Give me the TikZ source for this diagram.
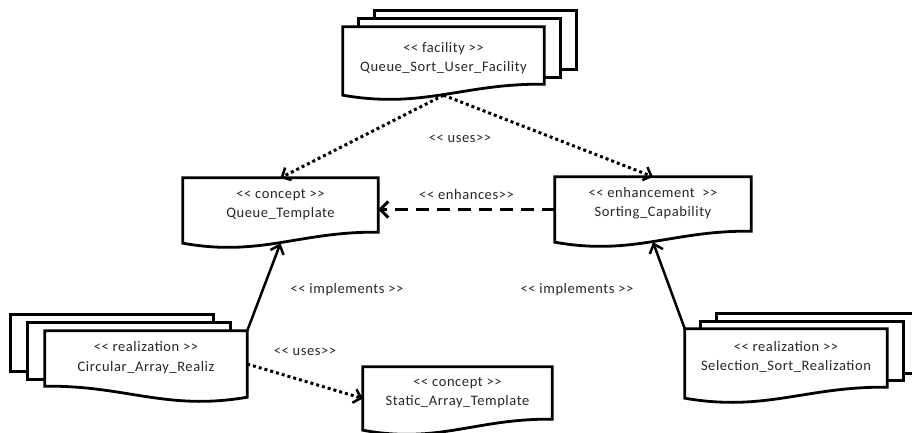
\documentclass[tikz,border=0pt]{standalone}
\usepackage{fontspec}
\setmainfont{Carlito}[Ligatures=TeXOff,LetterSpace=4]
\usetikzlibrary{arrows.meta,positioning,calc}

\pgfdeclarelayer{pages}
\pgfdeclarelayer{sheet}
\pgfsetlayers{pages,sheet,main}

% front sheet of a document box: straight top, wavy bottom rising to the right
\newcommand{\docsheet}[1]{%
  \begin{pgfonlayer}{sheet}
    \filldraw[sheetline] (#1.south west) -- (#1.north west) -- (#1.north east)
      -- ($(#1.south east)+(0,-11)$)
      .. controls ($(#1.south west)!0.6!(#1.south east)+(0,-12)$)
             and ($(#1.south west)!0.4!(#1.south east)+(0,14)$) .. (#1.south west)
      -- cycle;
  \end{pgfonlayer}}
% same sheet, mirrored (bottom rises to the left)
\newcommand{\docsheetflip}[1]{%
  \begin{pgfonlayer}{sheet}
    \filldraw[sheetline] (#1.south east) -- (#1.north east) -- (#1.north west)
      -- ($(#1.south west)+(0,-11)$)
      .. controls ($(#1.south east)!0.6!(#1.south west)+(0,-12)$)
             and ($(#1.south east)!0.4!(#1.south west)+(0,14)$) .. (#1.south east)
      -- cycle;
  \end{pgfonlayer}}
% two more pages behind a sheet, shifted by (#2,#3) each
\newcommand{\docstack}[3]{%
  \begin{pgfonlayer}{pages}
    \foreach \k in {2,1}
      \filldraw[sheetline] ($(#1.north west)+(\k*#2,\k*#3)$)
        rectangle ($(#1.south east)+(\k*#2,\k*#3-10)$);
  \end{pgfonlayer}}

\begin{document}
\begin{tikzpicture}[x=1pt, y=-1pt,
  font=\fontsize{14.5}{19.5}\selectfont, text=black!85,
  sheetline/.style={draw=black, fill=white, line width=2.8pt, line join=miter},
  page/.style 2 args={minimum width=#1, minimum height=#2, inner sep=0pt,
                      align=center, text height=14pt, text depth=0pt},
  tag/.style={inner sep=1pt},
  uses/.style={line width=3pt, dash pattern=on 3pt off 3pt,
               -{Straight Barb[length=7pt, width=14pt, line width=2.5pt]}},
  enh/.style={line width=3pt, dash pattern=on 13pt off 8pt,
              -{Straight Barb[length=8pt, width=16pt, line width=3pt]}},
  impl/.style={line width=2.5pt,
               -{Straight Barb[length=8pt, width=14pt, line width=2.5pt]}}
]
\useasboundingbox (0,0) rectangle (912,433);

% document boxes
\node[page={201pt}{68pt}, text height=22pt] (fac) at (443.5,61)
  {<< facility >>\\Queue\_Sort\_User\_Facility};
\node[page={195pt}{65pt}] (qt) at (280.5,210.5)
  {<< concept >>\\Queue\_Template};
\node[page={196pt}{65pt}] (sc) at (653,209.5)
  {<< enhancement\ \ >>\\Sorting\_Capability};
\node[page={202pt}{66pt}] (circ) at (146,364)
  {<< realization >>\\Circular\_Array\_Realiz};
\node[page={202pt}{69pt}] (sel) at (786,363.5)
  {<< realization >>\\Selection\_Sort\_Realization};
\node[page={189pt}{63pt}] (sat) at (457.5,398.5)
  {<< concept >>\\Static\_Array\_Template};

\docsheet{fac}  \docstack{fac}{16}{-8}
\docsheet{qt}
\docsheet{sc}
\docsheetflip{circ} \docstack{circ}{-17}{-8}
\docsheet{sel}  \docstack{sel}{16}{-7.5}
\docsheet{sat}

% dependencies
\draw[uses] (fac.south) -- (qt.north);
\draw[uses] (fac.south) -- (sc.north);
\node[tag] (usestop) at (460,139) {<< uses>>};
\draw[enh] (sc.west) -- (sc.west -| qt.east)
  node[tag, midway, above=7pt] (enhlbl) {<< enhances>>};
\draw[impl] (circ.north east) -- (qt.south);
\draw[impl] (sel.north west) -- (sc.south);
\node[tag] (impleft) at (347,290) {<< implements >>};
\node[tag] (impright) at (577,290) {<< implements >>};
\draw[uses] (circ.east) -- (sat.west);
\node[tag] (useslow) at (305,352) {<< uses>>};
\end{tikzpicture}
\end{document}
